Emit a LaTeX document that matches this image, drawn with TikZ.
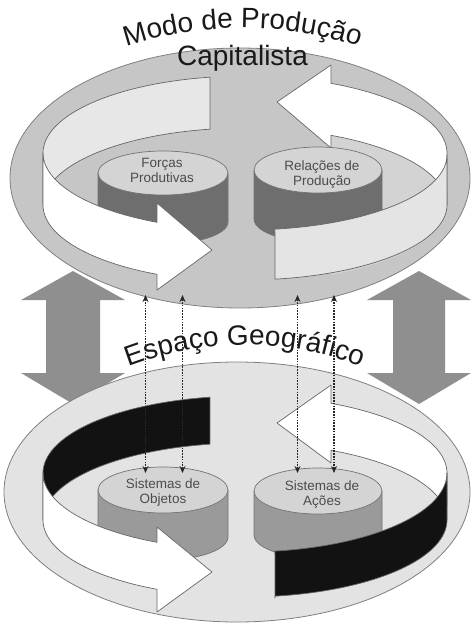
\documentclass[tikz,border=0pt]{standalone}
\usepackage{fontspec}
\setmainfont{Liberation Sans}
\usetikzlibrary{arrows.meta,decorations.text}
\definecolor{bigarc}{HTML}{8F8F8F}
\definecolor{ringT}{HTML}{C6C6C6}
\definecolor{floorT}{HTML}{D3D3D3}
\definecolor{lbandT}{HTML}{E7E7E7}
\definecolor{rbandT}{HTML}{E4E4E4}
\definecolor{cylbodyT}{HTML}{6E6E6E}
\definecolor{cyltopc}{HTML}{D4D4D4}
\definecolor{ellB}{HTML}{E3E3E3}
\definecolor{cylbodyB}{HTML}{9A9A9A}
\definecolor{blackband}{HTML}{121212}
\newcommand{\ttlfont}{\fontsize{28}{30}\selectfont}
\begin{document}
\begin{tikzpicture}[x=1pt,y=-1pt,
  band/.style={draw=black!60, line width=0.7pt, line join=round},
  cylbody/.style={draw=black!55, line width=0.7pt, line join=round},
  cyltop/.style={draw=black!55, line width=0.7pt},
  lbl/.style={anchor=base, text=black!70, font=\fontsize{13.5}{15}\selectfont, inner sep=0pt},
  title/.style={anchor=base, text=black!90, font=\ttlfont, inner sep=0pt},
  dotarrow/.style={draw=black!85, line width=1.9pt, dash pattern=on 1.6pt off 1.2pt, {Stealth[length=7pt,width=6pt]}-{Stealth[length=7pt,width=6pt]}},
  bigarrow/.style={fill=bigarc},
  bigell/.style={draw=black!50, line width=0.8pt},
]
\useasboundingbox (0,0) rectangle (472,625);
\fill[white] (0,0) rectangle (472,625);

% big double arrows (behind the ellipses)
\fill[bigarrow] (73,271) -- (125,300) -- (100,300) -- (100,373) -- (125,373) -- (73,404) -- (21,373) -- (46,373) -- (46,300) -- (21,300) -- cycle;
\fill[bigarrow] (419,271) -- (471,300) -- (445,300) -- (445,373) -- (471,373) -- (419,404) -- (367,373) -- (393,373) -- (393,300) -- (367,300) -- cycle;

% ================= TOP =================
\filldraw[bigell, fill=ringT] (240,178) ellipse [x radius=230, y radius=130];
\begin{scope}
  \clip (245,205) ellipse [x radius=202, y radius=77];
  \fill[floorT] (331,0) rectangle (472,320);
\end{scope}

% back bands
\filldraw[band, fill=lbandT] plot[domain=260:180, samples=40] ({245+202*cos(\x)},{153+77*sin(\x)}) -- plot[domain=180:260, samples=40] ({245+202*cos(\x)},{205+77*sin(\x)}) -- cycle;
\filldraw[band, fill=white] (277,102) -- (331,65) -- plot[domain=295.2:360, samples=40] ({245+202*cos(\x)},{153+77*sin(\x)}) -- plot[domain=360:295.2, samples=40] ({245+202*cos(\x)},{205+77*sin(\x)}) -- (331,148) -- cycle;

% cylinders
\filldraw[cylbody, fill=cylbodyT] (98,173) -- (98,222) -- plot[domain=180:0, samples=30] ({163+65*cos(\x)},{222+22*sin(\x)}) -- (228,173) -- cycle;
\filldraw[cyltop, fill=cyltopc] (163,173) ellipse [x radius=65, y radius=22];
\node[lbl] (fp1) at (162,167) {Forças};
\node[lbl] (fp2) at (162,182) {Produtivas};

\filldraw[cylbody, fill=cylbodyT] (254,170) -- (254,219) -- plot[domain=180:0, samples=30] ({318+64*cos(\x)},{219+23*sin(\x)}) -- (382,170) -- cycle;
\filldraw[cyltop, fill=cyltopc] (318,170) ellipse [x radius=64, y radius=23];
\node[lbl] (rp1) at (322,170) {Relações de};
\node[lbl] (rp2) at (322,185) {Produção};

% front bands
\filldraw[band, fill=white] plot[domain=180:115.8, samples=40] ({245+202*cos(\x)},{153+77*sin(\x)}) -- (157,203) -- (212,250) -- (157,290) -- plot[domain=115.8:180, samples=40] ({245+202*cos(\x)},{205+77*sin(\x)}) -- cycle;
\filldraw[band, fill=rbandT] plot[domain=0:81.5, samples=40] ({245+202*cos(\x)},{155+75*sin(\x)}) -- (275,237) -- (275,279) -- plot[domain=81.5:0, samples=40] ({245+202*cos(\x)},{205+75*sin(\x)}) -- cycle;

% titles
\node[title] (cap) at (242.5,65) {Capitalista};
\path[decorate, decoration={text along path, text={|\ttlfont\color{black!90}|Modo de Produção}, text align=center}] (113.9,50.7) arc[start angle=250, end angle=290, radius=376];

% ================= BOTTOM =================
\filldraw[bigell, fill=ellB] (237,492) ellipse [x radius=233, y radius=130];

% back bands
\filldraw[band, fill=blackband] plot[domain=260:180, samples=40] ({245+202*cos(\x)},{473+77*sin(\x)}) -- plot[domain=180:260, samples=40] ({245+202*cos(\x)},{520+77*sin(\x)}) -- cycle;
\filldraw[band, fill=white] (277,423) -- (331,385) -- plot[domain=295.2:360, samples=40] ({245+202*cos(\x)},{473+77*sin(\x)}) -- plot[domain=360:295.2, samples=40] ({245+202*cos(\x)},{520+77*sin(\x)}) -- (331,463) -- cycle;

% cylinders
\filldraw[cylbody, fill=cylbodyB] (98,490) -- (98,537) -- plot[domain=180:0, samples=30] ({163+65*cos(\x)},{537+23*sin(\x)}) -- (228,490) -- cycle;
\filldraw[cyltop, fill=cyltopc] (163,490) ellipse [x radius=65, y radius=23];
\node[lbl] (so1) at (163,488) {Sistemas de};
\node[lbl] (so2) at (163,503) {Objetos};

\filldraw[cylbody, fill=cylbodyB] (254,491) -- (254,535) -- plot[domain=180:0, samples=30] ({318+64*cos(\x)},{535+23*sin(\x)}) -- (382,491) -- cycle;
\filldraw[cyltop, fill=cyltopc] (318,491) ellipse [x radius=64, y radius=23];
\node[lbl] (sa1) at (322,490) {Sistemas de};
\node[lbl] (sa2) at (322,505) {Ações};

% front bands
\filldraw[band, fill=white] plot[domain=180:115.8, samples=40] ({245+202*cos(\x)},{473+77*sin(\x)}) -- (157,527) -- (212,572) -- (157,612) -- plot[domain=115.8:180, samples=40] ({245+202*cos(\x)},{520+77*sin(\x)}) -- cycle;
\filldraw[band, fill=blackband] plot[domain=0:81.5, samples=40] ({245+202*cos(\x)},{473+79*sin(\x)}) -- (275,555) -- (275,598) -- plot[domain=81.5:0, samples=40] ({245+202*cos(\x)},{520+77*sin(\x)}) -- cycle;

% middle title
\path[decorate, decoration={text along path, text={|\ttlfont\color{black!90}|Espaço Geográfico}, text align=center}] (106.8,375.6) arc[start angle=245, end angle=295, radius=327];

% dotted double arrows
\coordinate (a1t) at (145.5,295); \coordinate (a1b) at (145.5,473);
\coordinate (a2t) at (182.5,295); \coordinate (a2b) at (182.5,473);
\coordinate (a3t) at (297.5,295); \coordinate (a3b) at (297.5,473);
\coordinate (a4t) at (334,295);   \coordinate (a4b) at (334,473);
\draw[dotarrow] (a1t) -- (a1b);
\draw[dotarrow] (a2t) -- (a2b);
\draw[dotarrow] (a3t) -- (a3b);
\draw[dotarrow] (a4t) -- (a4b);
\end{tikzpicture}
\end{document}
